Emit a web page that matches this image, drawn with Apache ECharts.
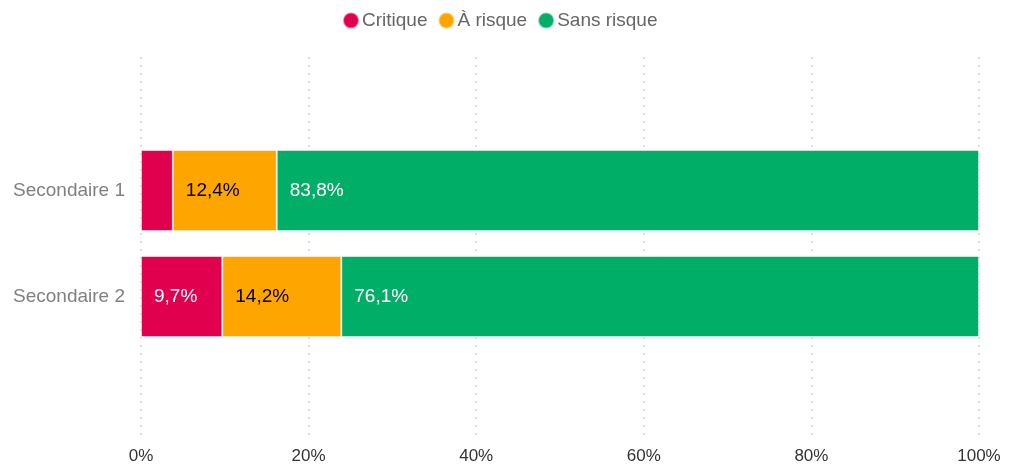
<!DOCTYPE html>
<html>
<head>
<meta charset="utf-8">
<script src="https://cdn.jsdelivr.net/npm/echarts@6/dist/echarts.min.js"></script>
<style>
html, body { margin: 0; padding: 0; background: #fff; }
#main { width: 1016px; height: 466px; }
</style>
</head>
<body>
<div id="main"></div>
<script>
var categories = ['Secondaire 1', 'Secondaire 2'];
var critique = [3.8, 9.7];
var aRisque = [12.4, 14.2];
var sansRisque = [83.8, 76.1];
var xTicks = [0, 20, 40, 60, 80, 100];

var fontFamily = '"Liberation Sans", Arial, sans-serif';

function pct(p) {
    if (p.value < 5) return '';
    return String(p.value).replace('.', ',') + '%';
}

function barSeries(name, data, color, labelColor) {
    return {
        name: name,
        type: 'bar',
        stack: 'total',
        xAxisIndex: 1,
        yAxisIndex: 1,
        barWidth: 81,
        data: data,
        itemStyle: {
            color: color,
            borderColor: 'rgba(255,255,255,0.5)',
            borderWidth: 1
        },
        label: {
            show: true,
            position: 'insideLeft',
            distance: 13,
            padding: [5, 0, 0, 0],
            color: labelColor,
            fontSize: 19,
            fontFamily: fontFamily,
            formatter: pct
        },
        emphasis: { disabled: true }
    };
}

var myChart = echarts.init(document.getElementById('main'));
var option = {
    backgroundColor: '#fff',
    animation: false,
    textStyle: { fontFamily: fontFamily },
    legend: {
        top: 6,
        left: 337,
        icon: 'circle',
        itemWidth: 16,
        itemHeight: 16,
        itemGap: 10,
        textStyle: { color: '#666', fontSize: 19, fontFamily: fontFamily, padding: [0, 0, 0, -2] },
        data: ['Critique', 'À risque', 'Sans risque']
    },
    grid: [{
        left: 141,
        right: 37,
        top: 57,
        bottom: 28
    }, {
        left: 141,
        right: 37,
        top: 137.5,
        height: 212
    }],
    xAxis: [{
        type: 'value',
        gridIndex: 0,
        min: 0,
        max: 100,
        interval: 20,
        axisLine: { show: false },
        axisTick: { show: false },
        axisLabel: {
            color: '#333',
            fontSize: 17,
            fontFamily: fontFamily,
            margin: 10,
            formatter: function (v) { return xTicks.indexOf(v) >= 0 ? v + '%' : ''; }
        },
        splitLine: { show: true, lineStyle: { type: [2, 6], color: '#d4d4d4', width: 1.5 } }
    }, {
        type: 'value',
        gridIndex: 1,
        min: 0,
        max: 100,
        show: false
    }],
    yAxis: [{
        type: 'category',
        gridIndex: 0,
        show: false,
        data: categories
    }, {
        type: 'category',
        gridIndex: 1,
        inverse: true,
        data: categories,
        axisLine: { show: false },
        axisTick: { show: false },
        axisLabel: { color: '#808080', fontSize: 19, fontFamily: fontFamily, margin: 16, padding: [5, 0, 0, 0] },
        splitLine: { show: false }
    }],
    series: [
        barSeries('Critique', critique, '#e0004d', '#fff'),
        barSeries('À risque', aRisque, '#ffa500', '#000'),
        barSeries('Sans risque', sansRisque, '#00ae67', '#fff')
    ]
};
myChart.setOption(option);
</script>
</body>
</html>
